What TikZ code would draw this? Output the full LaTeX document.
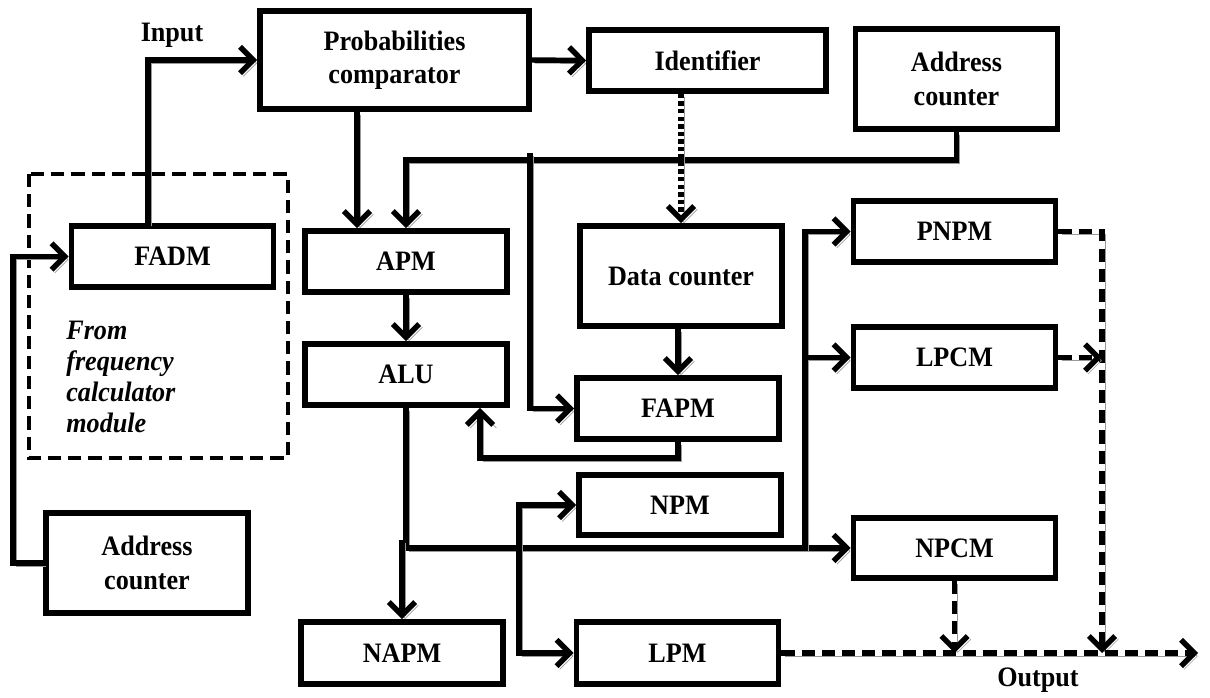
\documentclass[tikz,border=0pt]{standalone}
\usepackage{fontspec}
\setmainfont{Liberation Serif}[FakeStretch=0.93]
\usetikzlibrary{arrows.meta}
\tikzset{>={Straight Barb[length=7.5pt,width=15pt]}}
\tikzset{
  blk/.style={draw, line width=3.3pt, minimum width=4.04cm, minimum height=1.22cm,
    align=center, inner sep=2pt, font=\bfseries\fontsize{16}{19}\selectfont},
  lbl/.style={font=\bfseries\fontsize{16}{19}\selectfont},
  wire/.style={->, line width=3.1pt,
    preaction={draw=black!40, transform canvas={shift={(1.8pt,-1.8pt)}}}},
  dwire/.style={wire, dash pattern=on 7.5pt off 4pt},
  dotwire/.style={wire, dash pattern=on 2.5pt off 1.8pt},
}

\begin{document}
\begin{tikzpicture}[x=0.02cm, y=-0.02cm]
    \useasboundingbox (0,0) rectangle (1210,697);
    \node[blk, minimum width=5.38cm, minimum height=1.96cm] (prob) at (394.5,60) {Probabilities\\comparator};
    \node[blk, minimum width=4.74cm] (ident) at (707.5,60.5) {Identifier};
    \node[blk, minimum height=2cm] (addrTR) at (956.5,79) {Address\\counter};
    \node[blk] (fadm) at (172.5,256.5) {FADM};
    \node[blk] (apm) at (406,261.5) {APM};
    \node[blk, minimum height=2cm] (dcount) at (681,276) {Data counter};
    \node[blk] (pnpm) at (954.5,231.5) {PNPM};
    \node[blk] (alu) at (406,374.5) {ALU};
    \node[blk] (lpcm) at (954.5,357.5) {LPCM};
    \node[blk] (fapm) at (678,408.5) {FAPM};
    \node[blk, minimum height=1.2cm] (npm) at (680,505) {NPM};
    \node[blk, minimum height=1.2cm] (npcm) at (954.5,548) {NPCM};
    \node[blk, minimum height=2cm] (addrBL) at (147,563) {Address\\counter};
    \node[blk, minimum height=1.24cm] (napm) at (402,653) {NAPM};
    \node[blk, minimum height=1.24cm] (lpm) at (677.5,653) {LPM};
    \node[lbl] (inlbl) at (172,35) {Input};
    \node[lbl] (outlbl) at (1038,680) {Output};
    \draw[line width=2.8pt, dash pattern=on 7.5pt off 4pt] (29,174) rectangle (288,458);
    \node[anchor=north west, align=left, inner sep=0pt, font=\bfseries\itshape\fontsize{16}{17.6}\selectfont] (fcm) at (66,321) {From\\frequency\\calculator\\module};
    \draw[wire] (148,0 |- fadm.north) |- (prob.west);
    \draw[wire] (prob.east) -- (ident.west);
    \draw[wire] (357,0 |- prob.south) -- (357,0 |- apm.north);
    \draw[wire] (addrTR.south) |- (apm.north |- 0,160) -- (apm.north);
    \coordinate (tap) at (530,153);
    \draw[wire] (tap) |- (fapm.west);
    \draw[dotwire] (ident.south -| dcount.north) -- (dcount.north);
    \draw[wire] (fapm.north |- dcount.south) -- (fapm.north);
    \draw[wire] (fapm.south) -- ++(0,16) -| (480,0 |- alu.south);
    \draw[wire] (apm.south) -- (alu.north);
    \draw[wire] (alu.south) |- (npcm.west);
    \draw[wire] (napm.north |- 0,540) -- (napm.north);
    \draw[wire] (805,0 |- npcm.west) |- (pnpm.west);
    \draw[wire] (805,0 |- lpcm.west) -- (lpcm.west);
    \draw[wire, <->] (npm.west) -| (519,0 |- lpm.west) -- (lpm.west);
    \draw[wire] (addrBL.west) -| (13,0 |- fadm.west) -- (fadm.west);
    \coordinate (join) at (1102,653);
    \coordinate (outend) at (1198,653);
    \draw[dwire] (pnpm.east) -| (join);
    \draw[dwire] (lpcm.east) -- (join |- lpcm.east);
    \draw[dwire] (npcm.south) -- (npcm.south |- lpm.east);
    \draw[dwire] (lpm.east) -- (outend);
\end{tikzpicture}
\end{document}
